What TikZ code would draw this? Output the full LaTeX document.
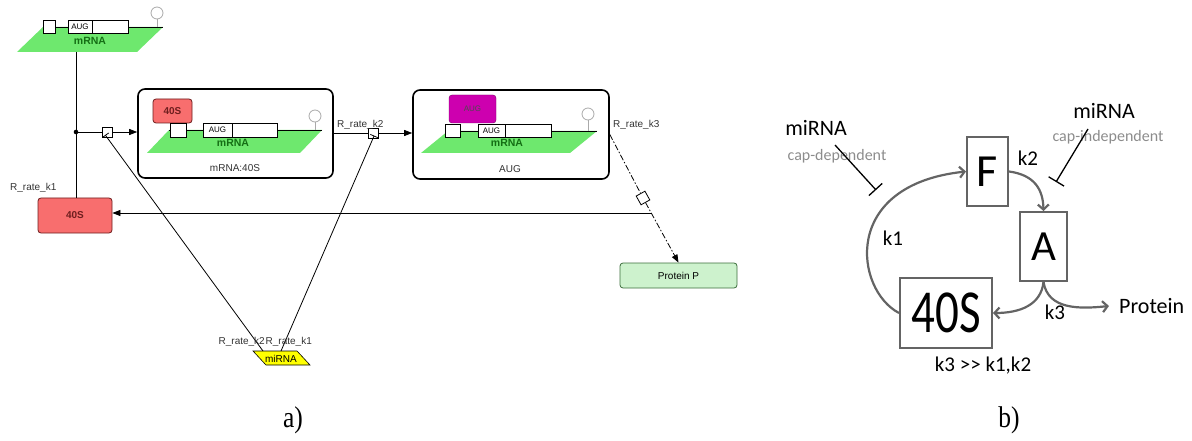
\documentclass[tikz,border=0pt]{standalone}
\usepackage{fontspec}
\setmainfont{Liberation Serif}
\newfontfamily\arialf{Liberation Sans}
\newfontfamily\calf{Carlito}
\usetikzlibrary{arrows.meta,calc}
\definecolor{glgreen}{RGB}{110,232,110}
\definecolor{txgreen}{RGB}{20,110,20}
\definecolor{sred}{RGB}{248,110,110}
\definecolor{sredd}{RGB}{110,30,30}
\definecolor{mag}{RGB}{205,0,175}
\definecolor{protg}{RGB}{205,242,205}
\definecolor{protd}{RGB}{60,110,60}
\definecolor{miy}{RGB}{255,255,0}
\definecolor{bgray}{RGB}{100,100,100}
\definecolor{lgray}{RGB}{140,140,140}
\definecolor{cgray}{RGB}{170,170,170}
\tikzset{
 lbl/.style={font=\arialf\fontsize{10}{12}\selectfont, text=black!80, inner sep=0},
 proc/.style={draw, fill=white, minimum size=10pt, inner sep=0, line width=0.8pt},
 atip/.style={-{Triangle[length=8pt,width=6pt]}},
 conn/.style={line width=0.8pt},
 cplx/.style={draw, line width=1.6pt, rounded corners=7pt, fill=white, inner sep=0},
 sbox/.style={draw=sredd, fill=sred, rounded corners=3pt, line width=0.8pt, inner sep=0, font=\arialf\bfseries\fontsize{10}{12}\selectfont, text=sredd},
 wbox/.style={draw, fill=white, line width=0.7pt},
 auglbl/.style={font=\arialf\fontsize{8}{9}\selectfont, inner sep=0},
 mlbl/.style={font=\arialf\bfseries\fontsize{10.5}{12}\selectfont, text=txgreen, inner sep=0},
 capc/.style={draw=cgray, line width=0.8pt},
 bbox/.style={draw=bgray, line width=2pt, fill=white, inner sep=0, font=\calf},
 garr/.style={draw=bgray, line width=2.2pt, -{Straight Barb[length=5pt,width=11pt]}},
 inhb/.style={line width=1.3pt, -{Bar[width=18pt,line width=1.3pt]}},
 inha/.style={line width=0.8pt, -{Bar[width=8pt,line width=0.8pt]}},
 ctext/.style={font=\calf\fontsize{21}{24}\selectfont, inner sep=0},
 gtext/.style={font=\calf\fontsize{16}{18}\selectfont, text=lgray, inner sep=0},
 captext/.style={font=\fontsize{30}{32}\selectfont, inner sep=0, xscale=0.85},
}
\begin{document}
\begin{tikzpicture}[x=1pt,y=-1pt]
\useasboundingbox (0,0) rectangle (1192,441);
% ---------------- panel a -----------------
% top mRNA glyph
\fill[glgreen] (17,52) -- (43,27) -- (163,27) -- (137,52) -- cycle;
\draw[conn] (43,27) -- (163,27);
\draw[capc] (157,27) -- (157,19);
\draw[capc, fill=white] (157,13) circle (6);
\draw[wbox] (43,20) rectangle (55,33);
\draw[wbox] (68,20) rectangle (92,33);
\draw[wbox] (92,20) rectangle (128,33);
\node[auglbl] (aug0) at (80,26.5) {AUG};
\node[mlbl] (mrna0) at (90,41) {mRNA};
\coordinate (mtop) at (76,52);

% 40S
\node[sbox, minimum width=74pt, minimum height=35pt] (s40) at (75,215.5) {40S};
% complexes
\node[cplx, minimum width=195pt, minimum height=89pt] (c1) at (235.5,133.5) {};
\node[cplx, minimum width=196pt, minimum height=89pt] (c2) at (511,134.5) {};
% complex 1 content
\fill[glgreen] (147,153) -- (169,130) -- (322,130) -- (300,153) -- cycle;
\draw[conn] (169,130) -- (322,130);
\draw[capc] (315,130) -- (315,122);
\draw[capc, fill=white] (315,116) circle (6);
\node[sbox, minimum width=39pt, minimum height=24pt] (s40b) at (172.5,111) {40S};
\draw[wbox] (170,123) rectangle (186,137);
\draw[wbox] (203,123) rectangle (232,137);
\draw[wbox] (232,123) rectangle (277,137);
\node[auglbl] (aug1) at (217.5,130) {AUG};
\node[mlbl] (mrna1) at (233,143) {mRNA};
\node[lbl] (c1lbl) at (235,168) {mRNA:40S};
% complex 2 content
\fill[glgreen] (421,153) -- (448,131) -- (597,131) -- (570,153) -- cycle;
\draw[conn] (448,131) -- (597,131);
\draw[capc] (588,131) -- (588,120);
\draw[capc, fill=white] (588,114) circle (6);
\node[draw=mag!60!black, fill=mag, rounded corners=3pt, minimum width=47pt, minimum height=28pt, inner sep=0, font=\arialf\fontsize{8}{9}\selectfont, text=black!70] (magb) at (472.5,109) {AUG};
\draw[wbox] (445,124) rectangle (460,137);
\draw[wbox] (478,124) rectangle (505,137);
\draw[wbox] (505,124) rectangle (551,137);
\node[auglbl] (aug2) at (491.5,130.5) {AUG};
\node[mlbl] (mrna2) at (507,143) {mRNA};
\node[lbl] (c2lbl) at (510,169) {AUG};

% Protein P
\node[draw=protd, fill=protg, rounded corners=3pt, line width=0.8pt, minimum width=117pt, minimum height=25pt, inner sep=0, font=\arialf\fontsize{10}{12}\selectfont] (prot) at (678.5,275.5) {Protein P};
% miRNA
\fill[miy] (253,351) -- (297,351) -- (310,365) -- (266,365) -- cycle;
\draw[line width=0.6pt] (253,351) -- (297,351) -- (310,365) -- (266,365) -- cycle;
\node[font=\arialf\fontsize{10}{12}\selectfont, inner sep=0] (mir) at (281,358.5) {miRNA};
\coordinate (mirA) at (263,351);
\coordinate (mirB) at (281,351);

% reactions
\coordinate (dot) at (76,132);
\node[proc] (p1) at (107,132) {};
\node[proc] (p2) at (373,133) {};
\node[proc, rotate=-61] (p3) at (643,198) {};
\draw[conn] (mtop) -- (dot);
\draw[conn] (s40.north -| dot) -- (dot);
\fill (dot) circle (2.3);
\draw[conn] (dot) -- (p1);
\draw[conn, atip] (p1) -- (p1 -| c1.west);
\draw[conn] (p2 -| c1.east) -- (p2);
\draw[conn, atip] (p2) -- (p2 -| c2.west);
\draw[conn, dash pattern=on 6pt off 2pt on 1.5pt off 2pt] (c2.east) -- (p3);
\draw[conn, dash pattern=on 6pt off 2pt on 1.5pt off 2pt, atip] (p3) -- (prot.north);
\coordinate (k3b) at (651,213);
\draw[conn, atip] (k3b) -- (k3b -| s40.east);
\draw[inha, shorten >=-3pt] (mirA) -- (p1.south);
\draw[inha, shorten >=-3pt] (mirB) -- (p2.south);
% labels
\node[lbl, anchor=west] (lk1) at (10,188) {R\_rate\_k1};
\node[lbl, anchor=west] (lk2) at (337,125) {R\_rate\_k2};
\node[lbl, anchor=west] (lk3) at (613,125) {R\_rate\_k3};
\node[lbl, anchor=east] (lmk2) at (265,342) {R\_rate\_k2};
\node[lbl, anchor=west] (lmk1) at (265.5,342) {R\_rate\_k1};

% ---------------- panel b -----------------
\node[bbox, minimum width=41pt, minimum height=69pt, font=\calf\fontsize{46}{46}\selectfont] (F) at (987.5,171.5) {F};
\node[bbox, minimum width=47pt, minimum height=69pt, font=\calf\fontsize{43}{43}\selectfont] (A) at (1043.5,246.5) {A};
\node[bbox, minimum width=92pt, minimum height=70pt, font=\calf\fontsize{47}{47}\selectfont] (B40) at (946,313) {\scalebox{1}[1.3]{40S}};
\node[ctext, anchor=west, inner xsep=10pt, font=\calf\fontsize{22}{24}\selectfont] (protb) at (1109,306) {Protein};
\draw[garr] (B40.west) .. controls (855,290) and (840,185) .. (F.west);
\draw[garr] (F.east) .. controls (1035,175) and (1043,190) .. (A.north);
\draw[garr] (A.south) .. controls (1041,305) and (1020,313) .. (B40.east);
\draw[garr] (A.south) .. controls (1048,310) and (1080,309) .. (protb.west);
\node[ctext] (k1) at (893,238) {k1};
\node[ctext] (k2) at (1028,158) {k2};
\node[ctext] (k3) at (1055,312) {k3};
\node[ctext] (kk) at (983,366) {k3 >> k1,k2};
\node[ctext, font=\calf\fontsize{22}{24}\selectfont] (mirL) at (816,128) {miRNA};
\node[gtext] (capd) at (837,156) {cap-dependent};
\node[ctext, font=\calf\fontsize{22}{24}\selectfont] (mirR) at (1104,111) {miRNA};
\node[gtext] (capi) at (1108,137) {cap-independent};
\coordinate (iL0) at (835,145);
\coordinate (iL1) at (876,190);
\coordinate (iR0) at (1088,129);
\coordinate (iR1) at (1056,182);
\draw[inhb] (iL0) -- (iL1);
\draw[inhb] (iR0) -- (iR1);
% panel captions
\node[captext] (capa) at (293,420) {a)};
\node[captext] (capb) at (1009,420) {b)};
\end{tikzpicture}
\end{document}
